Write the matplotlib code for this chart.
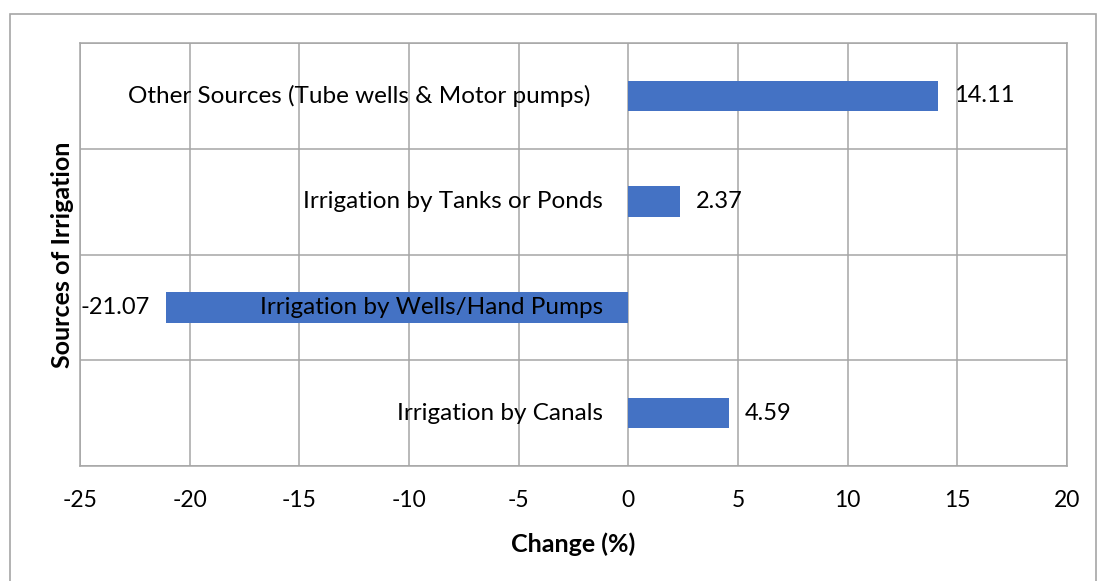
import matplotlib
matplotlib.use("Agg")
import matplotlib.pyplot as plt
from matplotlib.patches import Rectangle

categories = ["Irrigation by Canals", "Irrigation by Wells/Hand Pumps",
              "Irrigation by Tanks or Ponds", "Other Sources (Tube wells & Motor pumps)"]
values = [4.59, -21.07, 2.37, 14.11]
value_labels = ["4.59", "-21.07", "2.37", "14.11"]
xticks = [-25, -20, -15, -10, -5, 0, 5, 10, 15, 20]

plt.rcParams['font.family'] = ['Lato', 'DejaVu Sans']
W, H = 1097, 581
fig = plt.figure(figsize=(W / 100, H / 100), dpi=100)
ax = fig.add_axes([80 / W, 1 - 466 / H, (1067 - 80) / W, (466 - 43) / H])

grid_c = "#a6a6a6"
pos = list(range(len(categories)))
ax.barh(pos, values, height=0.29, color="#4472C4", zorder=3)

ax.set_xlim(-25, 20)
ax.set_ylim(-0.5, len(categories) - 0.5)
ax.set_xticks(xticks)
ax.set_xticklabels([str(t) for t in xticks], fontsize=16.5)
ax.set_yticks([i - 0.5 for i in range(len(categories) + 1)])
ax.set_yticklabels([])
ax.tick_params(axis='both', length=0)
ax.tick_params(axis='x', pad=17)
ax.grid(True, color=grid_c, linewidth=1.1, zorder=0)
for s in ax.spines.values():
    s.set_color(grid_c)
    s.set_linewidth(1.1)

for p, c in zip(pos, categories):
    off = -38 if c.startswith("Other") else -25
    ax.annotate(c, (0, p), xytext=(off, 0), textcoords='offset pixels',
                ha='right', va='center', fontsize=17.5, zorder=5)
for p, v, lab in zip(pos, values, value_labels):
    off = 16 if v >= 0 else -16
    ax.annotate(lab, (v, p), xytext=(off, 0), textcoords='offset pixels',
                ha='left' if v >= 0 else 'right', va='center', fontsize=17, zorder=5)

ax.set_xlabel("Change (%)", fontsize=18, fontweight='bold', labelpad=16)
ax.set_ylabel("Sources of Irrigation", fontsize=18, fontweight='bold', labelpad=1)

fig.patches.append(Rectangle((10 / W, -0.01), (1096 - 10) / W, 1 - 14 / H + 0.01,
                             transform=fig.transFigure, fill=False,
                             edgecolor="#a6a6a6", linewidth=1.2))

fig.savefig("out.png", dpi=100)
